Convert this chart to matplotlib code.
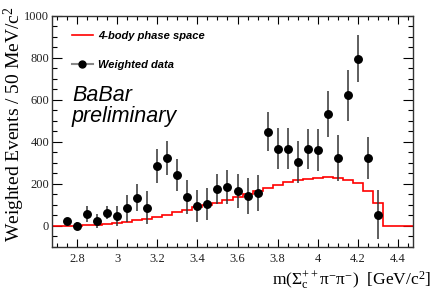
import matplotlib
matplotlib.use("Agg")
import matplotlib.pyplot as plt
from matplotlib.lines import Line2D
from matplotlib.ticker import MultipleLocator, FuncFormatter

# ---- data ----
mass = [2.75, 2.80, 2.85, 2.90, 2.95, 3.00, 3.05, 3.10, 3.15, 3.20, 3.25, 3.30,
        3.35, 3.40, 3.45, 3.50, 3.55, 3.60, 3.65, 3.70, 3.75, 3.80, 3.85, 3.90,
        3.95, 4.00, 4.05, 4.10, 4.15, 4.20, 4.25, 4.30]
weighted = [24, 0, 56, 24, 63, 48, 83, 135, 87, 285, 323, 244,
            138, 96, 104, 177, 184, 167, 142, 156, 448, 368, 367, 305,
            366, 361, 531, 323, 620, 795, 321, 53]
weighted_err = [15, 20, 38, 33, 30, 47, 63, 65, 78, 79, 80, 76,
                82, 76, 75, 72, 82, 80, 85, 85, 94, 97, 97, 99,
                96, 98, 110, 110, 122, 112, 100, 117]

ps_edges = [2.675, 2.725, 2.775, 2.825, 2.875, 2.925, 2.975, 3.025, 3.075, 3.125,
            3.175, 3.225, 3.275, 3.325, 3.375, 3.425, 3.475, 3.525, 3.575, 3.625,
            3.675, 3.725, 3.775, 3.825, 3.875, 3.925, 3.975, 4.025, 4.075, 4.125,
            4.175, 4.225, 4.275, 4.325, 4.375, 4.425, 4.475]
phase_space = [0, 0, 1, 3, 6, 10, 15, 21, 27, 34, 43, 53, 65, 77, 89, 100,
               111, 125, 138, 153, 167, 181, 196, 207, 218, 225, 230, 233, 228,
               216, 202, 166, 107, 2, 0, 0]

legend_labels = ["4-body phase space", "Weighted data"]
xlabel = r"m($\mathrm{\Sigma_{c}^{++}\pi^{-}\pi^{-}}$)  [GeV/c$^{2}$]"
ylabel = r"Weighted Events / 50 MeV/c$^{2}$"

# ---- style ----
plt.rcParams['mathtext.fontset'] = 'custom'
plt.rcParams['mathtext.rm'] = 'Liberation Serif'
plt.rcParams['mathtext.it'] = 'Liberation Serif:italic'
plt.rcParams['mathtext.bf'] = 'Liberation Serif:bold'

W, H = 436, 295
fig = plt.figure(figsize=(W / 100, H / 100), dpi=100)
L, R, T, B = 52, 413, 15.5, 247
ax = fig.add_axes([L / W, 1 - B / H, (R - L) / W, (B - T) / H])

ax.stairs(phase_space, ps_edges, color='red', lw=1.2, baseline=None, zorder=2)
ax.errorbar(mass, weighted, yerr=weighted_err, fmt='o', color='black',
            ms=5.4, ecolor='#333333', elinewidth=1.1, capsize=0, zorder=3)

ax.set_xlim(2.675, 4.475)
ax.set_ylim(-100, 1000)

ax.xaxis.set_major_locator(MultipleLocator(0.2))
ax.xaxis.set_minor_locator(MultipleLocator(0.05))
ax.yaxis.set_major_locator(MultipleLocator(200))
ax.yaxis.set_minor_locator(MultipleLocator(50))
ax.xaxis.set_major_formatter(FuncFormatter(lambda v, p: f"{v:g}"))
ax.yaxis.set_major_formatter(FuncFormatter(lambda v, p: f"{v:g}"))

ax.tick_params(axis='both', which='both', direction='in', top=True, right=True,
               width=0.8, colors='black')
ax.tick_params(axis='x', which='major', length=6, pad=4)
ax.tick_params(axis='x', which='minor', length=3)
ax.tick_params(axis='y', which='major', length=7.5, pad=2)
ax.tick_params(axis='y', which='minor', length=3.7)
for lab in ax.get_xticklabels() + ax.get_yticklabels():
    lab.set_fontfamily('Liberation Serif')
    lab.set_fontsize(9)
    lab.set_color('#222222')
for s in ax.spines.values():
    s.set_linewidth(1.0)
    s.set_color('#333333')

# legend
handles = [Line2D([], [], color='red', lw=1.2),
           Line2D([], [], color='#888888', lw=1.5, marker='o', mfc='black',
                  mec='black', ms=5)]
leg = ax.legend(handles, legend_labels, loc='upper left', frameon=False,
                bbox_to_anchor=((71.7 - L) / (R - L), 1 - (31 - T) / (B - T)),
                borderaxespad=0, borderpad=0, handlelength=1.9,
                handletextpad=0.45, labelspacing=1.7,
                prop={'family': 'Liberation Sans', 'weight': 'bold',
                      'style': 'italic', 'size': 8})

ax.text((72 - L) / (R - L), 1 - (122 - T) / (B - T), "BaBar\npreliminary",
        transform=ax.transAxes, ha='left', va='baseline', fontsize=15.5,
        family='Liberation Sans', style='italic', linespacing=1.0,
        multialignment='left')

fig.text(14 / W, 1 - 124.5 / H, ylabel, rotation=90, ha='center', va='center',
         fontsize=14, family='Liberation Serif')
fig.text(351.5 / W, 1 - 285 / H, xlabel, ha='center', va='baseline',
         fontsize=12.6, family='Liberation Serif')

fig.savefig('out.png', dpi=100)
